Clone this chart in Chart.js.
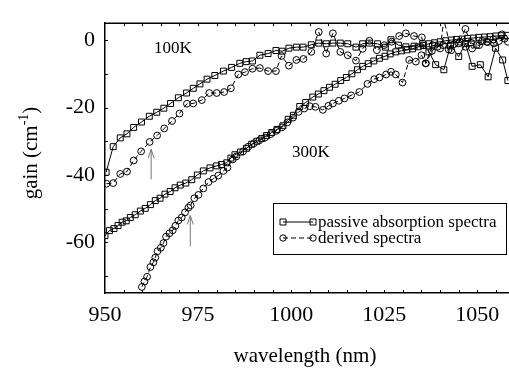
<!DOCTYPE html>
<html>
<head>
<meta charset="utf-8">
<script src="https://cdn.jsdelivr.net/npm/chart.js@4/dist/chart.umd.min.js"></script>
<style>
html, body { margin: 0; padding: 0; background: #fff; }
</style>
</head>
<body>
<canvas id="myChart" width="509" height="370"></canvas>
<script>
// values (wavelength nm, gain 1/cm)
var wl100Passive = [950.3, 952.2, 954.1, 955.9, 957.7, 959.8, 961.9, 963.9, 965.8, 967.6, 969.7, 971.9, 973.7, 975.5, 977.4, 979.5, 981.8, 984.0, 986.2, 987.9, 989.6, 991.6, 993.8, 995.9, 997.6, 999.4, 1001.4, 1003.2, 1005.4, 1007.4, 1009.4, 1011.2, 1013.2, 1015.2, 1017.4, 1019.2, 1021.0, 1023.2, 1025.3, 1026.8, 1028.8, 1030.8, 1033.0, 1035.3, 1037.0, 1038.8, 1041.0, 1042.8, 1045.0, 1046.8, 1048.6, 1050.8, 1052.9, 1054.9, 1056.8, 1058.2];
var gain100Passive = [-39.2, -31.6, -29.0, -27.8, -25.9, -24.3, -22.6, -21.4, -20.2, -18.8, -17.1, -15.7, -14.3, -13.0, -11.6, -10.5, -9.2, -8.1, -6.9, -6.4, -6.2, -4.5, -4.0, -3.1, -3.3, -2.4, -2.1, -2.1, -1.4, -0.9, -1.1, -0.9, -0.9, -1.1, -2.1, -1.1, -0.9, -1.1, -2.1, 0.1, -1.5, -2.0, -1.8, -1.1, -3.5, -7.3, -8.8, -1.5, -4.9, -1.0, -7.8, -7.3, -10.9, -2.4, -5.9, -12.0];

var wl100Derived = [950.4, 952.2, 954.1, 955.9, 957.7, 959.7, 962.0, 964.0, 965.9, 968.0, 970.0, 972.0, 973.7, 976.0, 978.0, 980.0, 982.0, 983.8, 985.8, 987.6, 989.6, 991.6, 993.8, 995.9, 997.4, 999.4, 1001.4, 1003.3, 1005.4, 1007.4, 1009.4, 1011.2, 1013.2, 1015.2, 1017.4, 1019.2, 1021.0, 1023.0, 1025.0, 1027.0, 1029.0, 1030.8, 1033.0, 1035.1, 1036.1, 1038.0, 1040.0, 1041.0, 1043.0, 1045.0, 1046.8, 1048.6, 1050.5, 1052.5, 1054.5, 1056.6, 1058.2];
var gain100Derived = [-42.6, -42.4, -39.7, -39.0, -35.7, -33.0, -30.2, -28.3, -26.2, -24.0, -21.8, -18.9, -18.8, -17.8, -15.7, -15.7, -15.4, -14.3, -10.2, -9.5, -8.5, -8.3, -9.2, -9.2, -4.7, -7.6, -5.9, -5.6, -3.5, 2.4, -4.0, 2.0, -3.5, -4.5, -6.1, -2.6, -0.2, -3.0, -1.5, -0.5, 1.2, 2.0, 1.2, 0.8, -6.9, -1.5, -2.5, 6.0, -3.0, -1.0, 3.3, -2.5, -1.5, -0.5, -1.0, 1.7, -0.5];

var wl300Passive = [950.0, 951.2, 952.4, 953.5, 954.6, 955.7, 956.8, 958.1, 959.5, 960.8, 962.2, 963.5, 964.8, 966.1, 967.5, 968.8, 970.2, 971.7, 973.3, 974.8, 976.4, 978.2, 980.0, 981.3, 982.7, 983.8, 984.9, 986.4, 988.0, 989.4, 990.8, 992.1, 993.4, 994.8, 996.2, 997.8, 999.2, 1000.6, 1002.3, 1003.9, 1005.8, 1007.3, 1008.8, 1010.3, 1011.8, 1013.3, 1014.8, 1016.3, 1017.8, 1019.2, 1020.7, 1022.2, 1023.7, 1025.2, 1026.6, 1028.1, 1029.6, 1031.1, 1032.6, 1034.1, 1035.5, 1037.0, 1038.5, 1040.0, 1041.5, 1043.0, 1044.4, 1045.9, 1047.4, 1048.9, 1050.4, 1051.9, 1053.4, 1054.9, 1056.4, 1058.0];
var gain300Passive = [-58.0, -56.5, -55.9, -55.0, -54.0, -53.6, -52.6, -51.8, -50.7, -49.9, -48.8, -47.6, -46.9, -45.7, -44.9, -43.8, -43.0, -42.4, -41.4, -40.0, -38.8, -37.9, -37.3, -36.9, -36.4, -35.0, -34.0, -33.2, -32.1, -30.9, -30.0, -29.2, -28.3, -27.4, -26.5, -25.4, -23.5, -22.3, -19.7, -18.5, -16.9, -16.0, -15.0, -14.0, -13.1, -12.0, -11.1, -10.0, -8.8, -7.8, -7.0, -6.2, -5.4, -4.8, -4.1, -3.5, -3.2, -2.9, -2.6, -2.0, -1.6, -1.1, -0.8, -0.5, -0.2, 0.0, 0.2, 0.3, 0.5, 0.6, 0.8, 0.9, 1.0, 1.2, 1.3, 1.4];

var wl300Derived = [959.9, 960.6, 961.3, 962.2, 963.0, 963.5, 964.1, 965.0, 965.7, 966.4, 967.3, 968.2, 968.9, 969.7, 970.6, 971.5, 972.4, 973.0, 974.0, 975.1, 976.4, 977.8, 979.1, 980.4, 981.8, 982.9, 984.3, 985.3, 987.1, 988.5, 990.0, 991.5, 993.0, 994.5, 996.0, 997.5, 999.0, 1000.5, 1002.0, 1003.5, 1005.0, 1006.5, 1008.5, 1010.0, 1011.2, 1012.8, 1014.3, 1016.1, 1018.3, 1020.5, 1022.3, 1023.7, 1025.5, 1026.8, 1028.1, 1029.9, 1031.7, 1033.5, 1035.0, 1036.2, 1037.8, 1039.3, 1040.8, 1042.3, 1043.8, 1045.3, 1046.8, 1048.3, 1049.8, 1051.3, 1052.8, 1054.3, 1055.8, 1057.3];
var gain300Derived = [-73.2, -71.6, -70.2, -67.3, -65.9, -64.5, -62.6, -61.6, -60.2, -58.3, -57.3, -56.4, -55.1, -53.5, -52.6, -51.1, -49.7, -49.0, -46.9, -45.9, -44.0, -42.1, -41.1, -40.2, -38.8, -37.8, -35.4, -34.5, -33.0, -31.6, -30.6, -29.7, -28.9, -27.9, -26.9, -25.9, -24.4, -23.0, -21.3, -20.3, -19.6, -19.8, -20.7, -19.5, -18.8, -18.0, -17.3, -16.4, -15.4, -13.0, -11.6, -11.1, -10.2, -9.4, -10.2, -12.6, -5.9, -6.4, -4.5, -6.9, -3.2, -2.0, -1.5, -2.8, -1.2, -0.5, -2.0, -0.8, -1.5, -0.3, -0.6, 0.2, -0.3, 0.4];

var xTicks = [950, 975, 1000, 1025, 1050];
var yTicks = [-60, -40, -20, 0];
var legendLabels = ['passive absorption spectra', 'derived spectra'];
var tempLabels = ['100K', '300K'];

function pts(xs, ys) {
    var out = [];
    for (var i = 0; i < xs.length; i++) out.push({ x: xs[i], y: ys[i] });
    return out;
}

function series(xs, ys, derived) {
    return {
        data: pts(xs, ys),
        showLine: true,
        borderColor: '#000',
        borderWidth: 1,
        borderDash: derived ? [5, 3] : [],
        pointStyle: derived ? 'circle' : 'rect',
        pointRadius: derived ? 3.4 : 4.2,
        pointBorderWidth: 1,
        pointBorderColor: '#000',
        pointBackgroundColor: 'rgba(255,255,255,0)'
    };
}

var SERIF = 'Liberation Serif';

// frame, small inner ticks, legend box, labels and arrows
var overlay = {
    id: 'overlay',
    afterDatasetsDraw: function (chart) {
        var c = chart.ctx, a = chart.chartArea;
        var xs = chart.scales.x, ys = chart.scales.y;
        c.save();
        c.strokeStyle = '#000';
        c.lineWidth = 1.5;
        c.beginPath();
        c.moveTo(a.left, a.top);
        c.lineTo(a.right, a.top);
        c.stroke();

        c.lineWidth = 1;
        c.beginPath();
        for (var w = 955; w < 1059; w += 5) {
            var px = Math.round(xs.getPixelForValue(w)) + 0.5;
            c.moveTo(px, a.bottom);
            c.lineTo(px, a.bottom - 3);
            c.moveTo(px, a.top);
            c.lineTo(px, a.top + 3);
        }
        for (var g = -70; g <= 0; g += 10) {
            var py = Math.round(ys.getPixelForValue(g)) + 0.5;
            c.moveTo(a.left, py);
            c.lineTo(a.left + 3, py);
        }
        c.stroke();

        // temperature labels
        c.fillStyle = '#000';
        c.font = '17px "' + SERIF + '"';
        c.textAlign = 'center';
        c.textBaseline = 'middle';
        c.fillText(tempLabels[0], 173, 49);
        c.fillText(tempLabels[1], 311, 153);

        // arrows
        function arrow(xv, y0, y1) {
            var px = xs.getPixelForValue(xv);
            var pb = ys.getPixelForValue(y0), pt = ys.getPixelForValue(y1);
            c.strokeStyle = '#777';
            c.lineWidth = 1;
            c.beginPath();
            c.moveTo(px, pb);
            c.lineTo(px, pt);
            c.moveTo(px - 3, pt + 9);
            c.lineTo(px, pt);
            c.lineTo(px + 3, pt + 9);
            c.stroke();
        }
        arrow(962.4, -41.3, -32.4);
        arrow(972.9, -61.2, -52.0);

        // legend
        c.fillStyle = '#fff';
        c.fillRect(273.5, 203.5, 233, 51);
        c.strokeStyle = '#000';
        c.lineWidth = 1;
        c.strokeRect(273.5, 203.5, 233, 51);
        var rows = [222, 238];
        for (var i = 0; i < 2; i++) {
            var y = rows[i];
            c.beginPath();
            c.setLineDash(i ? [5, 3] : []);
            c.moveTo(283, y);
            c.lineTo(313, y);
            c.stroke();
            c.setLineDash([]);
            [283, 313].forEach(function (mx) {
                c.beginPath();
                if (i === 0) c.rect(mx - 3, y - 3, 6, 6);
                else c.arc(mx, y, 3.2, 0, Math.PI * 2);
                c.stroke();
            });
            c.fillStyle = '#000';
            c.font = '17px "' + SERIF + '"';
            c.textAlign = 'left';
            c.textBaseline = 'alphabetic';
            c.fillText(legendLabels[i], 318, y + 5);
        }

        // axis titles
        c.font = '21px "' + SERIF + '"';
        c.textAlign = 'center';
        c.textBaseline = 'alphabetic';
        c.fillText('wavelength (nm)', 305, 362);

        c.translate(37, 153);
        c.rotate(-Math.PI / 2);
        var t1 = 'gain (cm', t2 = '-1', t3 = ')';
        c.font = '21px "' + SERIF + '"';
        var w1 = c.measureText(t1).width, w3 = c.measureText(t3).width;
        c.font = '14px "' + SERIF + '"';
        var w2 = c.measureText(t2).width;
        var x0 = -(w1 + w2 + w3) / 2;
        c.textAlign = 'left';
        c.font = '21px "' + SERIF + '"';
        c.fillText(t1, x0, 0);
        c.font = '14px "' + SERIF + '"';
        c.fillText(t2, x0 + w1, -9);
        c.font = '21px "' + SERIF + '"';
        c.fillText(t3, x0 + w1 + w2, 0);
        c.restore();
    }
};

var ctx = document.getElementById('myChart').getContext('2d');
var myChart = new Chart(ctx, {
    type: 'scatter',
    data: {
        datasets: [
            series(wl100Passive, gain100Passive, false),
            series(wl100Derived, gain100Derived, true),
            series(wl300Passive, gain300Passive, false),
            series(wl300Derived, gain300Derived, true)
        ]
    },
    options: {
        responsive: false,
        animation: false,
        devicePixelRatio: 1,
        layout: { autoPadding: false, padding: { top: 13, right: 0, left: 0, bottom: 0 } },
        plugins: {
            legend: { display: false },
            tooltip: { enabled: false }
        },
        scales: {
            x: {
                type: 'linear',
                min: 950,
                max: 1058.5,
                afterBuildTicks: function (s) { s.ticks = xTicks.map(function (v) { return { value: v }; }); },
                afterFit: function (s) { s.height = 77; s.paddingRight = 0; },
                grid: { display: false, drawTicks: false },
                border: { display: true, color: '#000', width: 1.5 },
                ticks: {
                    color: '#000',
                    padding: 9,
                    maxRotation: 0,
                    font: { family: SERIF, size: 22 },
                    callback: function (v) { return String(v); }
                }
            },
            y: {
                type: 'linear',
                min: -75,
                max: 5,
                afterBuildTicks: function (s) { s.ticks = yTicks.map(function (v) { return { value: v }; }); },
                afterFit: function (s) { s.width = 105; },
                grid: { display: false, drawTicks: false },
                border: { display: true, color: '#000', width: 1.5 },
                ticks: {
                    color: '#000',
                    padding: 10,
                    font: { family: SERIF, size: 22 },
                    callback: function (v) { return String(v); }
                }
            }
        }
    },
    plugins: [overlay]
});
</script>
</body>
</html>
